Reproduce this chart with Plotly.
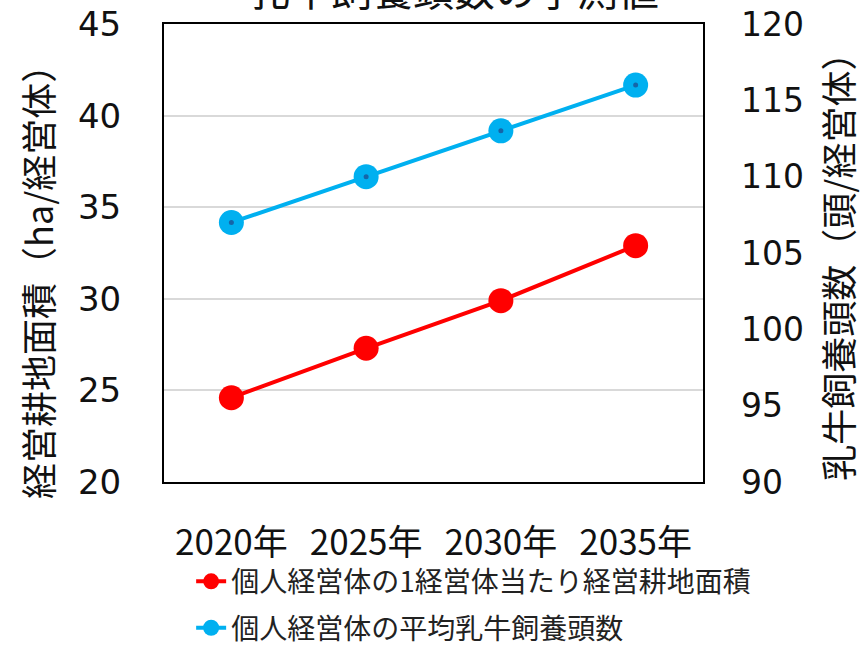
import plotly.graph_objects as go

categories = ["2020年", "2025年", "2030年", "2035年"]
area_values = [24.6, 27.3, 29.9, 32.9]      # 個人経営体の1経営体当たり経営耕地面積 (ha/経営体)
cattle_values = [107.0, 110.0, 113.0, 116.0]  # 個人経営体の平均乳牛飼養頭数 (頭/経営体)
left_ticks = [20, 25, 30, 35, 40, 45]
right_ticks = [90, 95, 100, 105, 110, 115, 120]

name_area = "個人経営体の1経営体当たり経営耕地面積"
name_cattle = "個人経営体の平均乳牛飼養頭数"
title_text = "乳牛飼養頭数の予測値"
left_title = "経営耕地面積（ha/経営体）"
right_title = "乳牛飼養頭数（頭/経営体）"

RED = "#FF0000"
BLUE = "#00B0F0"
CJK = "Noto Sans CJK JP"
LAT = "DejaVu Sans, Noto Sans CJK JP"

fig = go.Figure()
fig.add_trace(go.Scatter(
    x=categories, y=area_values, name=name_area, mode="lines+markers",
    line=dict(color=RED, width=4), marker=dict(color=RED, size=25),
    legendgroup="a", yaxis="y"))
fig.add_trace(go.Scatter(
    x=categories, y=cattle_values, name=name_cattle, mode="lines+markers",
    line=dict(color=BLUE, width=4), marker=dict(color=BLUE, size=25),
    legendgroup="b", yaxis="y2"))
fig.add_trace(go.Scatter(
    x=categories, y=cattle_values, mode="markers", showlegend=False,
    marker=dict(color="#1565A8", size=5), hoverinfo="skip", yaxis="y2"))

fig.update_layout(
    width=861, height=648,
    margin=dict(l=164, r=158, t=24, b=166, autoexpand=False),
    paper_bgcolor="white", plot_bgcolor="white",
    showlegend=True,
    legend=dict(xref="container", yref="container", x=0.222, y=0.141,
                xanchor="left", yanchor="top",
                font=dict(family=CJK, size=28, color="#222"),
                tracegroupgap=7, bgcolor="rgba(0,0,0,0)"),
    xaxis=dict(type="category", range=[-0.5, 3.5], showline=True, mirror=True,
               linecolor="black", linewidth=2, showgrid=False, ticks="",
               ticklabelstandoff=29, automargin=False,
               tickfont=dict(family=CJK, size=35, color="#111")),
    yaxis=dict(range=[20, 45], tickvals=left_ticks, showline=True, mirror=True,
               linecolor="black", linewidth=2, showgrid=True, gridcolor="#D9D9D9",
               gridwidth=2, zeroline=False, ticks="", ticklabelstandoff=34,
               automargin=False,
               tickfont=dict(family=LAT, size=34, color="#111")),
    yaxis2=dict(range=[90, 120], tickvals=right_ticks, overlaying="y", side="right",
                showgrid=False, zeroline=False, showline=False, ticks="",
                ticklabelstandoff=37, automargin=False,
                tickfont=dict(family=LAT, size=33, color="#111")),
    annotations=[
        dict(text=title_text, xref="paper", yref="paper", x=0.538, y=1.078,
             xanchor="center", yanchor="middle", showarrow=False,
             font=dict(family=CJK, size=41, color="#111")),
        dict(text=left_title, xref="paper", yref="paper", x=-0.237, y=0.457,
             xanchor="center", yanchor="middle", textangle=-90, showarrow=False,
             font=dict(family=CJK, size=36, color="#111")),
        dict(text=right_title, xref="paper", yref="paper", x=1.247, y=0.49,
             xanchor="center", yanchor="middle", textangle=-90, showarrow=False,
             font=dict(family=CJK, size=36, color="#111")),
    ],
)

fig.write_html("out.html")
